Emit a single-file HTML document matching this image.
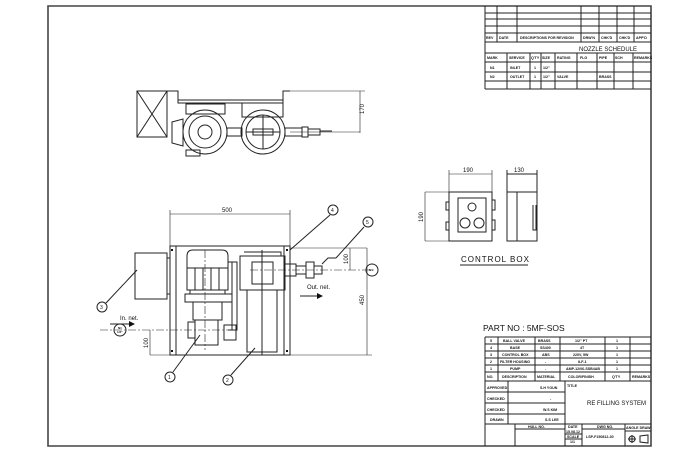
<!DOCTYPE html>
<html><head><meta charset="utf-8"><style>
html,body{margin:0;padding:0;background:#fff;}
svg{display:block;}
text{font-family:"Liberation Sans",sans-serif;fill:#111;}
.t text{font-weight:bold;}
</style></head><body>
<svg width="700" height="450" viewBox="0 0 700 450" xmlns="http://www.w3.org/2000/svg">
<g fill="none" stroke="#222" stroke-width="1">
<path d="M48 6 H651 V446 H48 Z" stroke="#444" stroke-width="1.6"/>
<path d="M485 6 V89 M485 13 H651 M485 19 H651 M485 26 H651 M485 33 H651 M485 42 H651 M485 53 H651 M485 62 H651 M485 72 H651 M485 81 H651 M485 89 H651"/>
<path d="M497 6 V42 M517 6 V42 M581 6 V42 M599 6 V42 M617 6 V42 M634 6 V42"/>
<path d="M507 53 V89 M530 53 V89 M541 53 V89 M555 53 V89 M577 53 V89 M597 53 V89 M614 53 V89 M633 53 V89"/>
<path d="M485 337 H651 M485 344 H651 M485 351 H651 M485 358 H651 M485 365 H651 M485 372 H651 M485 381 H651 M485 337 V446"/>
<path d="M498 337 V381 M535 337 V381 M560 337 V381 M605 337 V381 M630 337 V381"/>
<path d="M485 392 H565 M485 403 H565 M485 414 H565 M485 424 H651 M508 381 V424 M565 381 V446"/>
<path d="M515 424 V446 M515 429 H565 M582 424 V446 M625 424 V446 M565 434 H582 M565 439 H582 M582 429 H625 M625 431 H651"/>
<circle cx="632" cy="439" r="3"/><path d="M628 439 H636 M632 435 V443 M640 436 L648 435 V443 L640 442 Z"/>
<path d="M137 91 H167 V137 H137 Z M137 91 L167 137 M167 91 L137 137"/>
<path d="M167 91 H178 V103 H283 V91 H290 M178 100 H283"/>
<path d="M186 104 H225 V114 H186 Z M242 103 V117 H283 V103"/>
<circle cx="205" cy="132" r="22"/><circle cx="205" cy="132" r="16"/><circle cx="205" cy="132" r="7"/>
<circle cx="263" cy="132" r="22"/><circle cx="263" cy="132" r="17"/><path d="M253 129 H273 V135 H253 Z M246 132 H280 M263 115 V149"/>
<path d="M172 122 L183 119 V146 L172 143 Z M186 150 H200 V156 H186 Z"/>
<path d="M227 128 H242 V136 H227 Z M285 128 H302 V136 H285 Z M302 127 H308 V137 H302 Z M308 129 H320 V135 H308 Z M320 131 H332"/>
<path d="M290 91 H365 M290 132 H360 M360 91 V133" stroke-width="0.6"/>
<path d="M170 246 H290 V355 H170 Z M176 246 V355 M284 246 V355"/>
<path d="M290 248 H367 M290 355 H372 M367 248 V355" stroke-width="0.6"/>
<path d="M170 214 H290 M170 210 V246 M290 210 V246" stroke-width="0.6"/>
<path d="M135 253 H167 V299 H135 Z M167 258 H170 V294 H167"/>
<path d="M187 256 Q187 250 193 250 H222 Q228 250 228 256 V268 H187 Z M187 268 H228 V290 H187 Z M195 268 V290 M203 268 V290 M211 268 V290 M219 268 V290"/>
<path d="M190 290 H225 V294 H190 Z M185 294 H232 V302 H185 Z M193 302 H222 V320 H193 Z M195 320 H218 V345 H195 Z M188 322 H195 V338 H188 Z"/>
<path d="M228 262 H237 V330 H228 M232 262 V330 M224 325 H236 V340 H224 Z"/>
<path d="M240 256 H285 V290 H240 Z M244 252 H281 V256 M247 290 H277 V352 H247 Z M262 250 V355 M252 262 H273 V284 H252 Z"/>
<path d="M285 264 H296 V276 H285 Z M296 266 H306 V274 H296 Z M306 262 H314 V278 H306 Z M314 266 H322 V274 H314 Z M322 264 L328 258 H336"/>
<path d="M250 270 H375 M205 250 V350 M100 330 H228" stroke-dasharray="8 2 2 2" stroke-width="0.6"/>
<path d="M150 330 V355 M150 355 H170" stroke-width="0.6"/>
<path d="M350 248 V270" stroke-width="0.6"/>
<circle cx="333" cy="210" r="5"/><path d="M330 215 L290 250"/>
<circle cx="368" cy="222" r="5"/><path d="M364 227 L336 258"/>
<circle cx="102" cy="307" r="5"/><path d="M106 303 L137 270"/>
<circle cx="170" cy="377" r="5"/><path d="M173 372 L200 335"/>
<circle cx="228" cy="380" r="5"/><path d="M231 375 L255 348"/>
<circle cx="120" cy="330" r="6"/><circle cx="372" cy="270" r="6"/>
<path d="M110 324 H130 M300 296 H320"/>
<path d="M425 192 H492 V241 H425 M449 192 V241 M449 174 H492 M449 170 V192 M492 170 V192 M425 192 V241" stroke-width="0.6"/>
<path d="M449 192 H492 V241 H449 Z M458 198 H486 V232 H458 Z M446 202 H449 V210 H446 Z M446 222 H449 V230 H446 Z M492 200 H495 V210 H492 Z M492 220 H495 V230 H492 Z"/>
<circle cx="472" cy="207" r="4"/><circle cx="465" cy="223" r="5"/><circle cx="479" cy="223" r="5"/>
<path d="M507 192 H537 V241 H507 Z M517 192 V241 M533 205 V230 H536 V205 M507 174 H537 M507 170 V192 M537 170 V192" />
<path d="M460 265 H528"/>
</g>
<g fill="#111">
<path d="M135 324 l-6 -3 v6Z M323 296 l-6 -3 v6Z"/>
<rect x="171" y="249" width="2" height="2"/><rect x="171" y="350" width="2" height="2"/><rect x="286" y="249" width="2" height="2"/><rect x="286" y="350" width="2" height="2"/>
</g>
<g font-size="3.6" class="t">
<text x="486" y="39">REV</text><text x="499" y="39">DATE</text><text x="520" y="39">DESCRIPTIONS FOR REVISION</text><text x="583" y="39">DRW'N</text><text x="601" y="39">CHK'D</text><text x="619" y="39">CHK'D</text><text x="636" y="39">APP'D</text>
<text x="487" y="59">MARK</text><text x="509" y="59">SERVICE</text><text x="531" y="59">Q'TY</text><text x="542" y="59">SIZE</text><text x="557" y="59">RATING</text><text x="580" y="59">FLG</text><text x="599" y="59">PIPE</text><text x="615" y="59">SCH</text><text x="634" y="59">REMARKS</text>
<text x="490" y="69">N1</text><text x="510" y="69">INLET</text><text x="534" y="69">1</text><text x="543" y="69">1/2"</text>
<text x="490" y="78">N2</text><text x="510" y="78">OUTLET</text><text x="534" y="78">1</text><text x="543" y="78">1/2"</text><text x="557" y="78">VALVE</text><text x="599" y="78">BRASS</text>
<text x="490" y="342">5</text><text x="503" y="342">BALL VALVE</text><text x="538" y="342">BRASS</text><text x="575" y="342">1/2" PT</text><text x="616" y="342">1</text>
<text x="490" y="349">4</text><text x="510" y="349">BASE</text><text x="540" y="349">SS400</text><text x="580" y="349">4T</text><text x="616" y="349">1</text>
<text x="490" y="356">3</text><text x="502" y="356">CONTROL BOX</text><text x="542" y="356">ABS</text><text x="573" y="356">220V, 5W</text><text x="616" y="356">1</text>
<text x="490" y="363">2</text><text x="500" y="363">FILTER HOUSING</text><text x="545" y="363">-</text><text x="578" y="363">ILF-1</text><text x="616" y="363">1</text>
<text x="490" y="370">1</text><text x="510" y="370">PUMP</text><text x="545" y="370">-</text><text x="566" y="370">AMP-12/06-SSB4AB</text><text x="616" y="370">1</text>
<text x="487" y="378">NO.</text><text x="502" y="378">DESCRIPTION</text><text x="537" y="378">MATERIAL</text><text x="568" y="378">COLOR/FINISH</text><text x="612" y="378">Q'TY</text><text x="632" y="378">REMARKS</text>
<text x="487" y="389">APPROVED</text><text x="540" y="389">S.H YOUN</text><text x="567" y="387">TITLE</text>
<text x="487" y="400">CHECKED</text><text x="550" y="400">-</text>
<text x="487" y="411">CHECKED</text><text x="543" y="411">W.S KIM</text>
<text x="490" y="421">DRAWN</text><text x="545" y="421">S.S LEE</text>
<text x="528" y="428">HULL NO.</text><text x="568" y="428">DATE</text><text x="597" y="428">DWG NO.</text><text x="626" y="429">ANGLE DRAW</text>
<text x="566" y="433">15.08.12</text><text x="567" y="438">SCALE</text><text x="570" y="443">1/1</text><text x="586" y="438">LSP-F150812-30</text>
<text x="118" y="329" font-size="3">N1</text><text x="117" y="333" font-size="3">1/2"</text>
<text x="369" y="271" font-size="3">N1</text>
</g>
<g font-size="6">
<text x="579" y="51">NOZZLE SCHEDULE</text>
<text x="587" y="405">RE FILLING SYSTEM</text>
<text x="222" y="212">500</text>
<text x="463" y="172">190</text><text x="514" y="172">130</text>
<text x="331" y="212" font-size="5">4</text><text x="366" y="224" font-size="5">5</text><text x="100" y="309" font-size="5">3</text><text x="168" y="379" font-size="5">1</text><text x="226" y="382" font-size="5">2</text>
<text x="120" y="320">In. net.</text><text x="307" y="289">Out. net.</text>
<text transform="translate(364 114) rotate(-90)">170</text>
<text transform="translate(364 305) rotate(-90)">450</text>
<text transform="translate(348 264) rotate(-90)">100</text>
<text transform="translate(148 348) rotate(-90)">100</text>
<text transform="translate(423 222) rotate(-90)">190</text>
</g>
<text x="483" y="331" font-size="8.5">PART NO : 5MF-SOS</text>
<text x="461" y="262" font-size="8" letter-spacing="1">CONTROL BOX</text>
</svg>
</body></html>
